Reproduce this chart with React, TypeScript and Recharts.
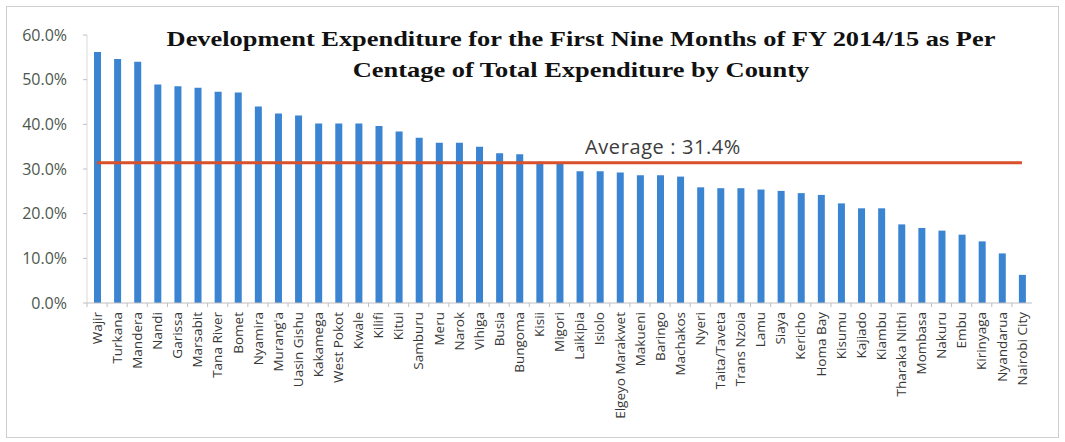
import React from 'react';
import { ComposedChart, Bar, Line, XAxis, YAxis } from 'recharts';

const counties = [
  'Wajir', 'Turkana', 'Mandera', 'Nandi', 'Garissa', 'Marsabit', 'Tana River', 'Bomet',
  'Nyamira', "Murang'a", 'Uasin Gishu', 'Kakamega', 'West Pokot', 'Kwale', 'Kilifi', 'Kitui',
  'Samburu', 'Meru', 'Narok', 'Vihiga', 'Busia', 'Bungoma', 'Kisii', 'Migori',
  'Laikipia', 'Isiolo', 'Elgeyo Marakwet', 'Makueni', 'Baringo', 'Machakos', 'Nyeri',
  'Taita/Taveta', 'Trans Nzoia', 'Lamu', 'Siaya', 'Kericho', 'Homa Bay', 'Kisumu',
  'Kajiado', 'Kiambu', 'Tharaka Nithi', 'Mombasa', 'Nakuru', 'Embu', 'Kirinyaga',
  'Nyandarua', 'Nairobi City',
];

const devShare = [
  56.2, 54.6, 54.0, 48.9, 48.5, 48.2, 47.3, 47.1,
  44.0, 42.4, 42.0, 40.2, 40.2, 40.2, 39.6, 38.4,
  37.0, 35.9, 35.9, 35.0, 33.5, 33.3, 31.6, 31.4,
  29.5, 29.5, 29.2, 28.6, 28.6, 28.3, 25.9,
  25.7, 25.7, 25.4, 25.1, 24.6, 24.2, 22.3,
  21.2, 21.2, 17.6, 16.8, 16.2, 15.3, 13.8,
  11.1, 6.3,
];

const average = 31.4;
const yTicks = [0, 10, 20, 30, 40, 50, 60];

const data = counties.map((c, i) => ({ county: c, share: devShare[i], avg: average }));

const labelFont = '"Open Sans", Lato, sans-serif';

// excel-style category ticks sit between bars, labels run downwards
const CountyTick = (props: any) => {
  const { x, y, payload } = props;
  const half = payload.offset || 10;
  return (
    <g>
      <line x1={x - half} x2={x - half} y1={y - 9} y2={y - 5} stroke="#bfbfbf" />
      <text
        x={x}
        y={y}
        transform={`rotate(-90, ${x}, ${y})`}
        textAnchor="end"
        dy="0.35em"
        fontSize={13.5}
        fontFamily={labelFont}
        fill="#383838"
      >
        {payload.value}
      </text>
    </g>
  );
};

export default function App() {
  return (
    <div style={{ position: 'absolute', left: 6, top: 6 }}>
      <div
        style={{
          position: 'relative',
          width: 1053,
          height: 432,
          border: '1px solid #cfcfcf',
          boxSizing: 'border-box',
          background: '#fff',
        }}
      >
        <div
          style={{
            position: 'absolute',
            left: 74,
            width: 1000,
            top: 16,
            textAlign: 'center',
            fontFamily: '"Liberation Serif", "Times New Roman", serif',
            fontWeight: 'bold',
            fontSize: 22,
            lineHeight: '31px',
            color: '#111',
            whiteSpace: 'nowrap',
            transform: 'scaleX(1.2)',
            transformOrigin: '50% 50%',
          }}
        >
          <div>Development Expenditure for the First Nine Months of FY 2014/15 as Per</div>
          <div>Centage of Total Expenditure by County</div>
        </div>
        <ComposedChart
          width={1051}
          height={430}
          data={data}
          margin={{ top: 28, right: 26, left: 0, bottom: 0 }}
        >
          <XAxis
            dataKey="county"
            interval={0}
            height={134}
            tickLine={false}
            axisLine={{ stroke: '#bfbfbf' }}
            tick={<CountyTick />}
            tickSize={0}
            tickMargin={9}
          />
          <YAxis
            domain={[0, 60]}
            ticks={yTicks}
            width={80}
            tickFormatter={(v: number) => `${v.toFixed(1)}%`}
            axisLine={{ stroke: '#d9d9d9' }}
            tickLine={{ stroke: '#bfbfbf' }}
            tickSize={4}
            tickMargin={16}
            tick={{ fontSize: 16, fontFamily: labelFont, fill: '#4d574d' }}
          />
          <Bar dataKey="share" fill="#3a84d2" barSize={7} isAnimationActive={false} />
          <Line
            dataKey="avg"
            stroke="#d9502a"
            strokeWidth={3}
            dot={false}
            activeDot={false}
            isAnimationActive={false}
          />
        </ComposedChart>
        <div
          style={{
            position: 'absolute',
            left: 578,
            top: 126,
            fontFamily: labelFont,
            fontSize: 20,
            letterSpacing: 0.6,
            color: '#3d3d3d',
            whiteSpace: 'nowrap',
          }}
        >
          Average : 31.4%
        </div>
      </div>
    </div>
  );
}
